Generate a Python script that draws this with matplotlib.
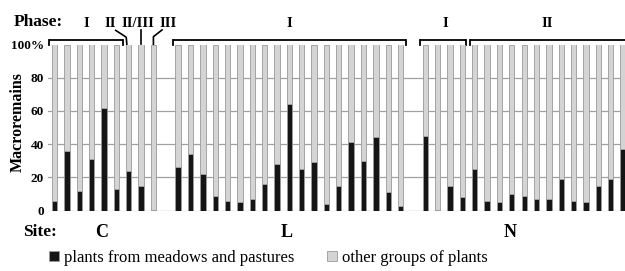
import numpy as np
import matplotlib.pyplot as plt

plt.rcParams['font.family'] = ['Liberation Serif', 'DejaVu Serif']

# share of macroremains (%) from meadows and pastures, per sample
site_c = [6, 36, 12, 31, 62, 13, 24, 15, 0.5]
site_l = [26, 34, 22, 9, 6, 5, 7, 16, 28, 64, 25, 29, 4, 15, 41, 30, 44, 11, 3]
site_n = [45, 0.6, 15, 8, 25, 6, 5, 10, 9, 7, 7, 19, 6, 5, 15, 19, 37]

sites = ["C", "L", "N"]
yticks = [0, 20, 40, 60, 80, 100]
ytick_labels = ["0", "20", "40", "60", "80", "100%"]
legend_labels = ["plants from meadows and pastures", "other groups of plants"]

# x slots, one empty slot between sites
x_c = np.arange(len(site_c))
x_l = np.arange(len(site_l)) + len(site_c) + 1
x_n = np.arange(len(site_n)) + x_l[-1] + 2
x = np.concatenate([x_c, x_l, x_n])
meadow = np.array(site_c + site_l + site_n)
other = 100 - meadow

W, H = 625, 271
fig = plt.figure(figsize=(W / 100, H / 100), dpi=100)
ax = fig.add_axes([48 / W, 60.5 / H, 1 - 48 / W, 166 / H])

w = 0.43
b1 = ax.bar(x, meadow, width=w, color="#151515", edgecolor="#9a9a9a", linewidth=0.6, zorder=3)
b2 = ax.bar(x, other, bottom=meadow, width=w, color="#d4d4d4", edgecolor="#9a9a9a",
            linewidth=0.6, zorder=3)

ax.set_xlim(-0.53, 46.16)
ax.set_ylim(0, 100)
ax.set_xticks([])
ax.set_yticks(yticks)
ax.set_yticklabels(ytick_labels, fontweight="bold", fontsize=9.5)
ax.tick_params(axis="y", length=0, pad=3)
for v in yticks[:-1]:
    ax.axhline(v, color="#a0a0a0", lw=0.9, zorder=1)
for s in ax.spines.values():
    s.set_visible(False)
fig.text(17.5 / W, 1 - 122.5 / H, "Macroremains", fontweight="bold", fontsize=11.5,
         rotation=90, ha="center", va="center")

# phase brackets
def bracket(x0, x1, right_open=False):
    ax.plot([x0, x1], [103, 103], color="black", lw=1.3, clip_on=False, solid_capstyle="butt")
    ax.plot([x0, x0], [103, 99.4], color="black", lw=1.3, clip_on=False)
    if not right_open:
        ax.plot([x1, x1], [103, 99.4], color="black", lw=1.3, clip_on=False)

bracket(-0.45, 5.5)
bracket(9.6, 28.45)
bracket(29.6, 33.3)
bracket(33.65, 47, right_open=True)

# leader lines for single samples
ax.plot([4.95, 5.8, 5.85], [108.5, 104.4, 100.2], color="black", lw=1.2, clip_on=False)
ax.plot([7.0, 7.0], [108.8, 100.2], color="black", lw=1.2, clip_on=False)
ax.plot([8.7, 8.0, 8.0], [108.8, 104.7, 100.2], color="black", lw=1.2, clip_on=False)

ph = dict(fontweight="bold", fontsize=10.5, ha="center", va="center", clip_on=False)
ax.text(2.55, 112.6, "I", **ph)
ax.text(4.5, 112.6, "II", **ph)
ax.text(6.74, 112.6, "II/III", **ph)
ax.text(9.2, 112.6, "III", **ph)
ax.text(19.0, 112.6, "I", **ph)
ax.text(31.6, 112.6, "I", **ph)
ax.text(39.9, 112.6, "II", **ph)

fig.text(14 / W, 1 - 22.5 / H, "Phase:", fontweight="bold", fontsize=12.5, ha="left", va="center")
fig.text(23 / W, 1 - 232.5 / H, "Site:", fontweight="bold", fontsize=12.5, ha="left", va="center")
for lab, cx in zip(sites, [102, 287, 510]):
    fig.text(cx / W, 1 - 232.5 / H, lab, fontweight="bold", fontsize=13, ha="center", va="center")

fig.legend([b1, b2], legend_labels, ncol=2, frameon=False, fontsize=12,
           loc="center left", bbox_to_anchor=(49 / W, 1 - 258 / H),
           handlelength=0.6, handleheight=0.6, handletextpad=0.3, columnspacing=1.95,
           borderpad=0, borderaxespad=0)

fig.savefig("out.png", dpi=100)
